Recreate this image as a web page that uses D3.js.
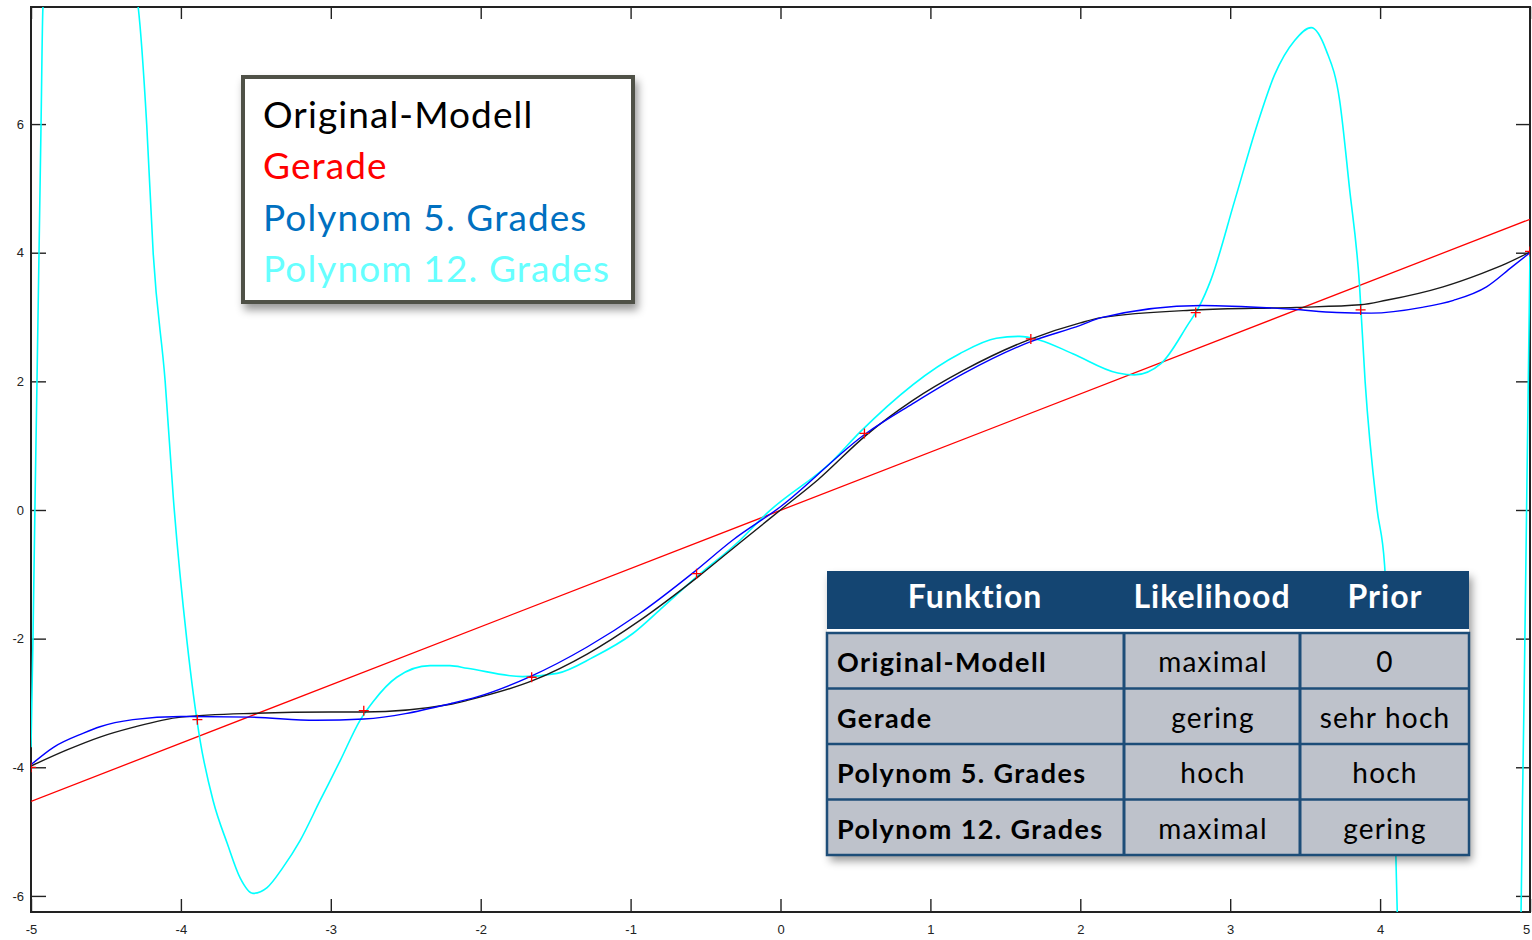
<!DOCTYPE html>
<html>
<head>
<meta charset="utf-8">
<script src="https://cdn.jsdelivr.net/npm/d3@7"></script>
<style>
  body { margin: 0; background: #fff; }
  svg { display: block; }
</style>
</head>
<body>
<div id="chart"></div>
<script>
// ---- data ----
const xTicks = [-5, -4, -3, -2, -1, 0, 1, 2, 3, 4, 5];
const yTicks = [-6, -4, -2, 0, 2, 4, 6];

// noisy samples (red crosses)
const sampleX = [-5, -3.89, -2.78, -1.66, -0.56, 0.56, 1.67, 2.77, 3.87, 5];
const sampleY = [-4.0, -3.26, -3.12, -2.6, -0.99, 1.19, 2.66, 3.07, 3.11, 4.02];

// Gerade (red line)
const lineX = [-5, 5];
const lineY = [-4.53, 4.52];

// Original-Modell (black)
const originalX = [-5, -4.76, -4.54, -4.32, -4.0, -3.5, -3.0, -2.78, -2.2, -2.09, -1.65, -1.29, -0.94, -0.54, -0.25, 0,
                   0.25, 0.57, 0.88, 1.22, 1.66, 2.0, 2.14, 2.77, 3.44, 3.87, 4.04, 4.42, 4.68, 4.84, 5];
const originalY = [-3.98, -3.73, -3.53, -3.38, -3.22, -3.16, -3.14, -3.14, -3.02, -2.96, -2.65, -2.24, -1.72, -1.02, -0.47, 0,
                   0.47, 1.16, 1.7, 2.17, 2.65, 2.91, 2.99, 3.11, 3.15, 3.19, 3.26, 3.47, 3.68, 3.83, 4.01];

// Polynom 5. Grades (blue)
const poly5X = [-5, -4.85, -4.65, -4.54, -4.32, -4.0, -3.54, -3.1, -2.78, -2.2, -2.03, -1.67, -1.29, -0.94, -0.58, -0.32, 0,
                0.57, 0.88, 1.22, 1.66, 2.0, 2.14, 2.81, 3.42, 3.71, 3.94, 4.28, 4.49, 4.71, 4.88, 5];
const poly5Y = [-3.96, -3.69, -3.47, -3.37, -3.26, -3.21, -3.22, -3.27, -3.25, -3.01, -2.91, -2.59, -2.13, -1.61, -0.97, -0.47, 0.05,
                1.19, 1.65, 2.12, 2.61, 2.87, 2.99, 3.18, 3.12, 3.07, 3.06, 3.15, 3.26, 3.47, 3.78, 4.0];

// Polynom 12. Grades (cyan), leaves the axes at top and bottom
const poly12X = [-5, -4.987, -4.973, -4.96, -4.933, -4.92, -4.6, -4.285, -4.228, -4.185, -4.105, -4.05, -3.96, -3.872,
                 -3.785, -3.69, -3.605, -3.52, -3.425, -3.32, -3.205, -3.072, -2.938, -2.805, -2.718, -2.56, -2.338, -2.205,
                 -2.09, -1.72, -1.49, -1.25, -0.985, -0.785, -0.585, -0.27, -0.095, 0.35, 0.53, 1.195, 1.44, 1.595, 1.73,
                 1.95, 2.25, 2.36, 2.54, 2.72, 2.79, 2.87, 3.03, 3.18, 3.295, 3.43, 3.54, 3.64, 3.73, 3.795, 3.862, 3.9,
                 3.98, 4.03, 4.105, 4.115, 4.5, 4.94, 4.95, 4.96, 4.98, 5];
const poly12Y = [-3.69, -2.03, 0.15, 2.0, 6.0, 7.82, 11, 7.82, 5.99, 4.0, 2.0, 0.17, -2.03, -3.58,
                 -4.52, -5.19, -5.72, -5.96, -5.87, -5.56, -5.14, -4.52, -3.9, -3.27, -2.98, -2.6, -2.42, -2.42,
                 -2.46, -2.59, -2.54, -2.29, -1.92, -1.51, -1.09, -0.47, -0.06, 0.77, 1.21, 2.43, 2.67, 2.7, 2.64,
                 2.43, 2.13, 2.1, 2.28, 2.89, 3.15, 3.57, 4.81, 5.99, 6.76, 7.3, 7.5, 7.15, 6.37, 5.02, 3.52, 2.0,
                 0.01, -0.86, -5.35, -6.3, -20, -6.3, -4.5, -3.0, 0.5, 4.0];

const legendLabels = ["Original-Modell", "Gerade", "Polynom 5. Grades", "Polynom 12. Grades"];

const tableHeader = ["Funktion", "Likelihood", "Prior"];
const tableFunktion = ["Original-Modell", "Gerade", "Polynom 5. Grades", "Polynom 12. Grades"];
const tableLikelihood = ["maximal", "gering", "hoch", "maximal"];
const tablePrior = ["0", "sehr hoch", "hoch", "gering"];

// ---- layout ----
const W = 1532, H = 940;
const box = {left: 31, right: 1530, top: 7, bottom: 912};
const colors = {original: "#1a1a1a", line: "#ff0000", poly5: "#0000ff", poly12: "#00ffff"};
const legendColors = ["#000000", "#ff0000", "#0070c0", "#66ffff"];

const svg = d3.select("#chart").append("svg")
    .attr("width", W)
    .attr("height", H);

const defs = svg.append("defs");
defs.append("clipPath").attr("id", "plotClip")
    .append("rect")
    .attr("x", box.left).attr("y", box.top)
    .attr("width", box.right - box.left).attr("height", box.bottom - box.top);
defs.append("filter").attr("id", "shadow")
    .attr("x", "-10%").attr("y", "-10%").attr("width", "130%").attr("height", "130%")
    .append("feDropShadow")
    .attr("dx", 3).attr("dy", 6).attr("stdDeviation", 4)
    .attr("flood-color", "#000").attr("flood-opacity", 0.4);

// Set the ranges
const xScale = d3.scaleLinear().domain([-5, 5]).range([box.left, box.right]);
const yScale = d3.scaleLinear().domain([-6.25, 7.82]).range([box.bottom, box.top]);

// Axes, ticks pointing inward on all four sides
const fmt = d => String(d);
const axisFont = "'Liberation Sans', Arial, sans-serif";

function styleAxis(g) {
    g.select(".domain").remove();
    g.selectAll(".tick line").attr("stroke", "#222").attr("stroke-width", 1.4);
    g.selectAll(".tick text").attr("fill", "#222").style("font-family", axisFont).style("font-size", "13px");
}

const xAxisG = svg.append("g")
    .attr("transform", "translate(0," + box.bottom + ")")
    .call(d3.axisBottom(xScale).tickValues(xTicks).tickSize(-13).tickPadding(13).tickFormat(fmt))
    .call(styleAxis);
// keep the last label inside the window
xAxisG.selectAll(".tick text").filter(d => d === 5).attr("dx", -4);

svg.append("g")
    .attr("transform", "translate(0," + box.top + ")")
    .call(d3.axisTop(xScale).tickValues(xTicks).tickSize(-12).tickFormat(""))
    .call(styleAxis);
svg.append("g")
    .attr("transform", "translate(" + box.left + ",0)")
    .call(d3.axisLeft(yScale).tickValues(yTicks).tickSize(-15).tickPadding(7).tickFormat(fmt))
    .call(styleAxis);
svg.append("g")
    .attr("transform", "translate(" + box.right + ",0)")
    .call(d3.axisRight(yScale).tickValues(yTicks).tickSize(-14).tickFormat(""))
    .call(styleAxis);

// axes box
svg.append("rect")
    .attr("x", box.left).attr("y", box.top)
    .attr("width", box.right - box.left).attr("height", box.bottom - box.top)
    .attr("fill", "none").attr("stroke", "#222").attr("stroke-width", 2);

// curves
const plot = svg.append("g").attr("clip-path", "url(#plotClip)");
const smooth = d3.line()
    .x(d => xScale(d[0]))
    .y(d => yScale(d[1]))
    .curve(d3.curveMonotoneX);

function addCurve(xs, ys, color, width) {
    plot.append("path")
        .attr("d", smooth(d3.zip(xs, ys)))
        .attr("fill", "none")
        .attr("stroke", color)
        .attr("stroke-width", width)
        .attr("stroke-linejoin", "round");
}

addCurve(lineX, lineY, colors.line, 1.3);
addCurve(poly12X, poly12Y, colors.poly12, 1.6);
addCurve(originalX, originalY, colors.original, 1.4);
addCurve(poly5X, poly5Y, colors.poly5, 1.4);

// samples as "+"
plot.selectAll(".sample")
    .data(d3.zip(sampleX, sampleY))
    .enter().append("path")
    .attr("class", "sample")
    .attr("transform", d => "translate(" + xScale(d[0]) + "," + yScale(d[1]) + ")")
    .attr("d", "M-5,0H5M0,-5V5")
    .attr("stroke", "#ff0000")
    .attr("stroke-width", 1.3);

// legend box
const textFont = "Lato, 'Noto Sans', sans-serif";
const legend = svg.append("g");
legend.append("rect")
    .attr("x", 243).attr("y", 77)
    .attr("width", 390).attr("height", 225)
    .attr("fill", "#fff")
    .attr("stroke", "#4f5146")
    .attr("stroke-width", 4)
    .attr("filter", "url(#shadow)");
legend.selectAll("text")
    .data(legendLabels)
    .enter().append("text")
    .attr("x", 263)
    .attr("y", (d, i) => 128 + i * 51.3)
    .attr("fill", (d, i) => legendColors[i])
    .style("font-family", textFont)
    .style("font-size", "37px")
    .style("letter-spacing", "1.1px")
    .text(d => d);

// table
const table = {left: 827, right: 1469, top: 571, headBottom: 629, bodyTop: 633, rowH: 55.5};
const colX = [827, 1124, 1300, 1469];
const tg = svg.append("g");
const bodyBottom = table.bodyTop + table.rowH * tableFunktion.length;

tg.append("rect")
    .attr("x", table.left).attr("y", table.top)
    .attr("width", table.right - table.left).attr("height", bodyBottom - table.top)
    .attr("fill", "#fff")
    .attr("filter", "url(#shadow)");
tg.append("rect")
    .attr("x", table.left).attr("y", table.top)
    .attr("width", table.right - table.left).attr("height", table.headBottom - table.top)
    .attr("fill", "#144572");
tg.append("rect")
    .attr("x", table.left).attr("y", table.bodyTop)
    .attr("width", table.right - table.left).attr("height", bodyBottom - table.bodyTop)
    .attr("fill", "#bec2cb");

// grid lines
const gridColor = "#1d4d78";
tableFunktion.forEach((d, i) => {
    if (i === 0) return;
    tg.append("line")
        .attr("x1", table.left).attr("x2", table.right)
        .attr("y1", table.bodyTop + i * table.rowH).attr("y2", table.bodyTop + i * table.rowH)
        .attr("stroke", gridColor).attr("stroke-width", 2.5);
});
[colX[1], colX[2]].forEach(cx => {
    tg.append("line")
        .attr("x1", cx).attr("x2", cx)
        .attr("y1", table.bodyTop).attr("y2", bodyBottom)
        .attr("stroke", gridColor).attr("stroke-width", 3);
});
tg.append("rect")
    .attr("x", table.left).attr("y", table.bodyTop)
    .attr("width", table.right - table.left).attr("height", bodyBottom - table.bodyTop)
    .attr("fill", "none").attr("stroke", gridColor).attr("stroke-width", 2.5);

// header text
const headCenters = [975, 1212, 1385];
tg.selectAll(".head")
    .data(tableHeader)
    .enter().append("text")
    .attr("class", "head")
    .attr("x", (d, i) => headCenters[i])
    .attr("y", 608)
    .attr("text-anchor", "middle")
    .attr("fill", "#fff")
    .style("font-family", textFont)
    .style("font-weight", "bold")
    .style("font-size", "32px")
    .style("letter-spacing", "1px")
    .text(d => d);

// body text
const rowBase = i => table.bodyTop + i * table.rowH + 39;
tg.selectAll(".c1")
    .data(tableFunktion)
    .enter().append("text")
    .attr("x", 837)
    .attr("y", (d, i) => rowBase(i))
    .attr("fill", "#000")
    .style("font-family", textFont)
    .style("font-weight", "bold")
    .style("font-size", "27px")
    .style("letter-spacing", "1.4px")
    .text(d => d);
tg.selectAll(".c2")
    .data(tableLikelihood)
    .enter().append("text")
    .attr("x", 1213)
    .attr("y", (d, i) => rowBase(i))
    .attr("text-anchor", "middle")
    .attr("fill", "#000")
    .style("font-family", textFont)
    .style("font-size", "28px")
    .style("letter-spacing", "1.2px")
    .text(d => d);
tg.selectAll(".c3")
    .data(tablePrior)
    .enter().append("text")
    .attr("x", 1385)
    .attr("y", (d, i) => rowBase(i))
    .attr("text-anchor", "middle")
    .attr("fill", "#000")
    .style("font-family", textFont)
    .style("font-size", "28px")
    .style("letter-spacing", "1.2px")
    .text(d => d);
</script>
</body>
</html>
